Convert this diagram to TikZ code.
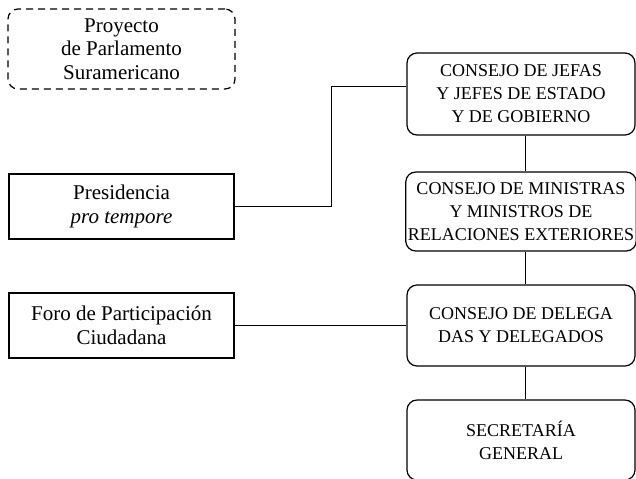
\documentclass[tikz,border=0pt]{standalone}
\usepackage{fontspec}
\setmainfont{Liberation Serif}
\tikzset{
  organ/.style={draw, line width=0.6pt, rounded corners=5pt, align=center,
    minimum width=114pt, minimum height=40pt, inner sep=1pt,
    font=\fontsize{9}{11.5}\selectfont},
  unit/.style={draw, line width=0.6pt, align=center,
    minimum width=112.5pt, minimum height=32.5pt, inner sep=1pt,
    font=\fontsize{10.5}{11.8}\selectfont},
  dashbox/.style={organ, dash pattern=on 3.5pt off 2.5pt,
    font=\fontsize{10.5}{11.8}\selectfont}
}
\begin{document}
\begin{tikzpicture}[x=0.5pt,y=-0.5pt]
      \useasboundingbox (0,0) rectangle (636,478);
      \draw
        (121.5,49) node[dashbox, minimum width=113.5pt] (proyecto){Proyecto\\de Parlamento\\Suramericano}
        (121.5,206.5) node[unit] (presidencia){Presidencia\\\textit{pro tempore}}
        (121.5,325.5) node[unit] (foro){Foro de Participación\\Ciudadana}
        (521,94) node[organ, minimum height=41pt] (jefas){CONSEJO DE JEFAS\\Y JEFES DE ESTADO\\Y DE GOBIERNO}
        (521,211.5) node[organ, minimum height=39.5pt] (ministras){CONSEJO DE MINISTRAS\\Y MINISTROS DE\\RELACIONES EXTERIORES}
        (521,325.5) node[organ, minimum height=40.5pt] (delegados){CONSEJO DE DELEGA\\DAS Y DELEGADOS}
        (521,440) node[organ] (secretaria){SECRETARÍA\\GENERAL};
      \coordinate (bend) at (331,86);
      \begin{scope}[-, line width=0.5pt]
        \draw (presidencia) -| (bend) -- (bend -| jefas.west);
        \draw (foro) -- (delegados);
        \draw ([xshift=2pt]jefas.south) -- ([xshift=2pt]ministras.north);
        \draw ([xshift=2pt]ministras.south) -- ([xshift=2pt]delegados.north);
        \draw ([xshift=2pt]delegados.south) -- ([xshift=2pt]secretaria.north);
      \end{scope}
    \end{tikzpicture}
\end{document}
